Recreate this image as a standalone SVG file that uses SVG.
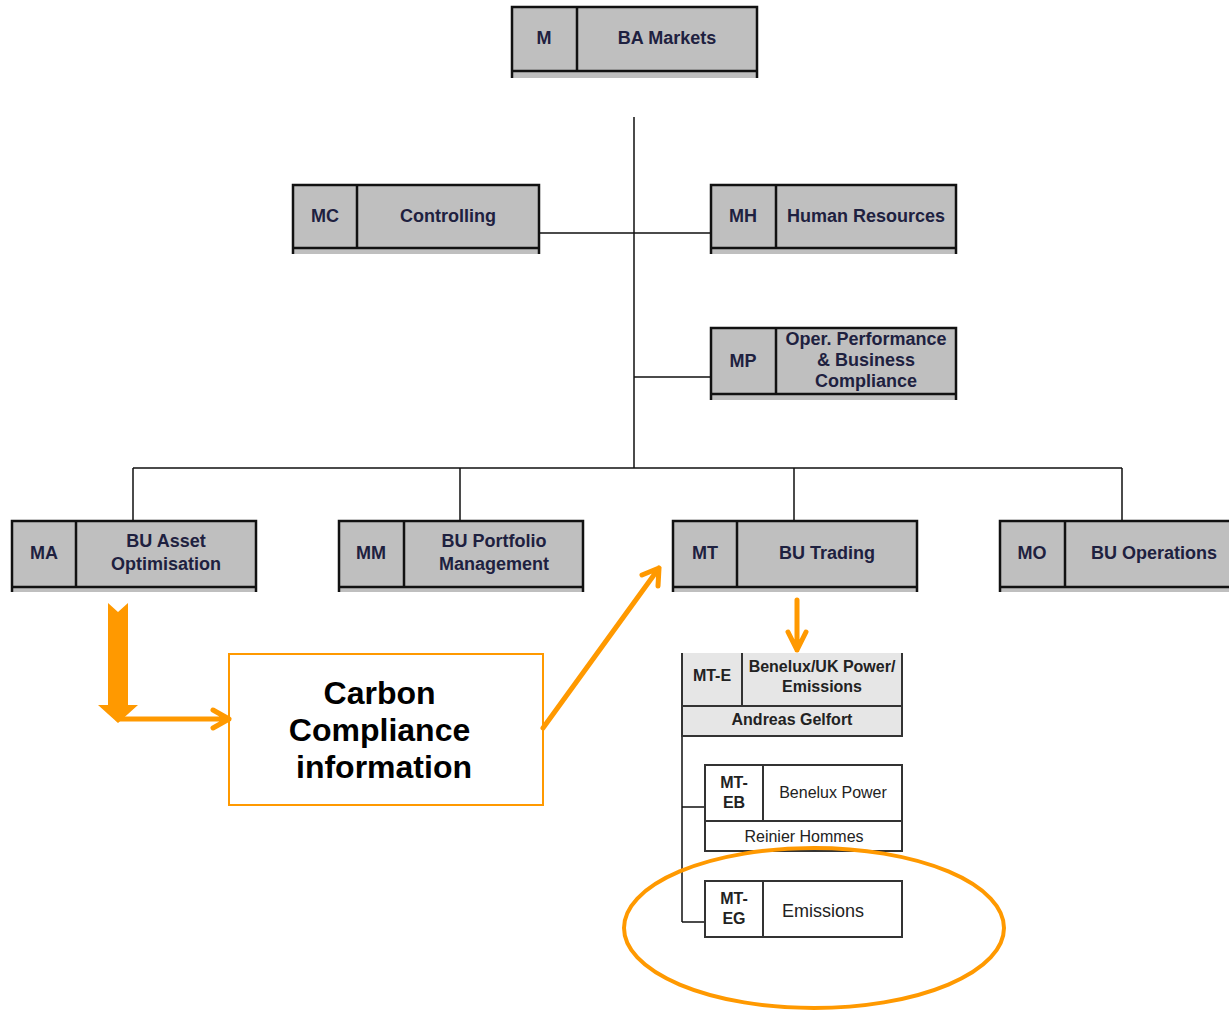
<svg xmlns="http://www.w3.org/2000/svg" width="1229" height="1010" viewBox="0 0 1229 1010">
<defs>
<style>
.box{fill:#bfbfbf;stroke:none}
.ol{fill:none;stroke:#111;stroke-width:2.5}
.t{font-family:"Liberation Sans",Arial,sans-serif;font-weight:bold;font-size:18px;fill:#1e2140;text-anchor:middle}
.lb{fill:#e6e6e6;stroke:none}
.ol2{fill:none;stroke:#333;stroke-width:2}
.t2{font-family:"Liberation Sans",Arial,sans-serif;font-size:16px;fill:#222;text-anchor:middle}
.b{font-weight:bold}
.big{font-size:18px}
.con{fill:none;stroke:#111;stroke-width:1.5}
.or{fill:none;stroke:#ff9900;stroke-width:5;stroke-linecap:round;stroke-linejoin:round}
</style>
</defs>
<rect width="1229" height="1010" fill="#fff"/>
<g id="connectors">
<path class="con" d="M634,117 V468 M539,233 H711 M634,377 H711 M133,468 H1122 M133,468 V521 M460,468 V521 M794,468 V521 M1122,468 V521"/>
<path class="con" d="M682,736 V922 M682,807 H705 M682,922 H705"/>
</g>
<g id="node-M">
<rect class="box" x="512" y="7" width="245" height="71"/>
<path class="ol" d="M512,78 V7 H757 V78 M577,7 V71 M512,71 H757"/>
<text class="t" x="544" y="44">M</text>
<text class="t" x="667" y="44">BA Markets</text>
</g>
<g id="node-MC">
<rect class="box" x="293" y="185" width="246" height="69"/>
<path class="ol" d="M293,254 V185 H539 V254 M357,185 V248 M293,248 H539"/>
<text class="t" x="325" y="222">MC</text>
<text class="t" x="448" y="222">Controlling</text>
</g>
<g id="node-MH">
<rect class="box" x="711" y="185" width="245" height="69"/>
<path class="ol" d="M711,254 V185 H956 V254 M776,185 V248 M711,248 H956"/>
<text class="t" x="743" y="222">MH</text>
<text class="t" x="866" y="222">Human Resources</text>
</g>
<g id="node-MP">
<rect class="box" x="711" y="328" width="245" height="72"/>
<path class="ol" d="M711,400 V328 H956 V400 M776,328 V394 M711,394 H956"/>
<text class="t" x="743" y="367">MP</text>
<text class="t" x="866" y="345">Oper. Performance</text>
<text class="t" x="866" y="366">&amp; Business</text>
<text class="t" x="866" y="387">Compliance</text>
</g>
<g id="node-MA">
<rect class="box" x="12" y="521" width="244" height="71"/>
<path class="ol" d="M12,592 V521 H256 V592 M76,521 V587 M12,587 H256"/>
<text class="t" x="44" y="559">MA</text>
<text class="t" x="166" y="547">BU Asset</text>
<text class="t" x="166" y="570">Optimisation</text>
</g>
<g id="node-MM">
<rect class="box" x="339" y="521" width="244" height="71"/>
<path class="ol" d="M339,592 V521 H583 V592 M404,521 V587 M339,587 H583"/>
<text class="t" x="371" y="559">MM</text>
<text class="t" x="494" y="547">BU Portfolio</text>
<text class="t" x="494" y="570">Management</text>
</g>
<g id="node-MT">
<rect class="box" x="673" y="521" width="244" height="71"/>
<path class="ol" d="M673,592 V521 H917 V592 M737,521 V587 M673,587 H917"/>
<text class="t" x="705" y="559">MT</text>
<text class="t" x="827" y="559">BU Trading</text>
</g>
<g id="node-MO">
<rect class="box" x="1000" y="521" width="240" height="71"/>
<path class="ol" d="M1000,592 V521 H1240 M1065,521 V587 M1000,587 H1240"/>
<text class="t" x="1032" y="559">MO</text>
<text class="t" x="1154" y="559">BU Operations</text>
</g>
<g id="node-MT-E">
<rect class="lb" x="682" y="653" width="220" height="83"/>
<path class="ol2" d="M682,653 V736 H902 V653 M742,653 V706 M682,706 H902"/>
<text class="t2 b" x="712" y="681">MT-E</text>
<text class="t2 b" x="822" y="672">Benelux/UK Power/</text>
<text class="t2 b" x="822" y="692">Emissions</text>
<text class="t2 b" x="792" y="725">Andreas Gelfort</text>
</g>
<g id="node-MT-EB">
<rect x="705" y="765" width="197" height="86" fill="#fff"/>
<path class="ol2" d="M705,765 H902 V851 H705 Z M763,765 V821 M705,821 H902"/>
<text class="t2 b" x="734" y="788">MT-</text>
<text class="t2 b" x="734" y="808">EB</text>
<text class="t2" x="833" y="798">Benelux Power</text>
<text class="t2" x="804" y="842">Reinier Hommes</text>
</g>
<g id="node-MT-EG">
<rect x="705" y="881" width="197" height="56" fill="#fff"/>
<path class="ol2" d="M705,881 H902 V937 H705 Z M763,881 V937"/>
<text class="t2 b" x="734" y="904">MT-</text>
<text class="t2 b" x="734" y="924">EG</text>
<text class="t2 big" x="823" y="917">Emissions</text>
</g>
<g id="node-carbon">
<rect x="229" y="654" width="314" height="151" fill="#fff" stroke="#ff9900" stroke-width="2"/>
<text font-family="Liberation Sans,Arial,sans-serif" font-weight="bold" font-size="32" fill="#000" text-anchor="middle">
<tspan x="384" y="704">Carbon</tspan>
<tspan x="384" y="741">Compliance</tspan>
<tspan x="384" y="778">information</tspan>
</text>
</g>
<g id="highlight">
<ellipse cx="814" cy="928" rx="190" ry="80" fill="none" stroke="#ff9900" stroke-width="4"/>
</g>
<g id="orange-arrows">
<polygon fill="#ff9900" points="108,603 118,612 128,603 128,705 138,705 118,723 98,705 108,705"/>
<path class="or" d="M118,719 H229 M213,710 L229,719 L213,728"/>
<path class="or" d="M543,728 L659,568 M642,575 L659,568 L658,586"/>
<path class="or" d="M797,600 V650 M788,632 L797,650 L806,632"/>
</g>
</svg>
